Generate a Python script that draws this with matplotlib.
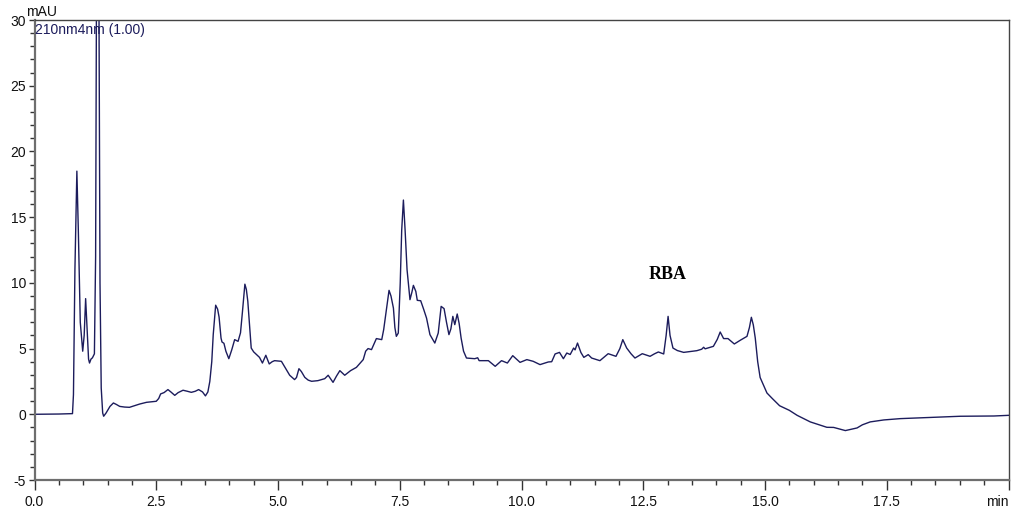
import matplotlib
matplotlib.use("Agg")
import matplotlib.pyplot as plt
from matplotlib.ticker import MultipleLocator, FixedLocator

# Retention time (min) and absorbance (mAU)
time_min = [
    0.00, 0.50, 0.78, 0.80, 0.83, 0.87, 0.90, 0.94, 0.99, 1.02, 1.05, 1.08, 1.11, 1.13, 1.16, 1.19,
    1.23, 1.255, 1.275, 1.30, 1.32, 1.345, 1.37, 1.40, 1.42, 1.47, 1.55, 1.62, 1.68, 1.75, 1.85, 1.95,
    2.05, 2.16, 2.30, 2.50, 2.55, 2.59, 2.66, 2.74, 2.80, 2.88, 2.95, 3.05, 3.14, 3.22, 3.30, 3.37,
    3.45, 3.51, 3.56, 3.60, 3.64, 3.67, 3.72, 3.76, 3.79, 3.83, 3.85, 3.89, 3.93, 3.99, 4.05, 4.11,
    4.18, 4.23, 4.27, 4.32, 4.35, 4.38, 4.42, 4.45, 4.50, 4.56, 4.62, 4.68, 4.75, 4.82, 4.88, 4.93,
    5.07, 5.17, 5.24, 5.34, 5.38, 5.43, 5.48, 5.55, 5.62, 5.69, 5.82, 5.96, 6.03, 6.08, 6.13, 6.20,
    6.27, 6.37, 6.49, 6.61, 6.75, 6.80, 6.85, 6.92, 7.02, 7.13, 7.17, 7.22, 7.28, 7.32, 7.37, 7.40,
    7.43, 7.47, 7.51, 7.54, 7.575, 7.61, 7.65, 7.71, 7.75, 7.78, 7.83, 7.86, 7.93, 7.99, 8.05, 8.12,
    8.22, 8.29, 8.35, 8.41, 8.46, 8.51, 8.55, 8.59, 8.63, 8.68, 8.72, 8.76, 8.81, 8.87, 9.04, 9.10,
    9.13, 9.32, 9.46, 9.59, 9.71, 9.82, 9.97, 10.11, 10.24, 10.38, 10.55, 10.62, 10.69, 10.78, 10.86, 10.93,
    11.00, 11.07, 11.10, 11.15, 11.22, 11.28, 11.37, 11.44, 11.61, 11.78, 11.94, 12.02, 12.08, 12.16, 12.25, 12.33,
    12.48, 12.64, 12.73, 12.81, 12.92, 12.97, 13.01, 13.05, 13.11, 13.20, 13.33, 13.60, 13.70, 13.74, 13.77, 13.94,
    14.02, 14.08, 14.15, 14.24, 14.37, 14.50, 14.63, 14.68, 14.72, 14.76, 14.80, 14.85, 14.90, 15.04, 15.15, 15.30,
    15.50, 15.66, 15.93, 16.27, 16.41, 16.65, 16.89, 17.00, 17.16, 17.44, 17.78, 18.46, 19.01, 19.70, 20.00,
]
absorbance_mau = [
    0.00, 0.02, 0.05, 1.5, 11.0, 18.5, 14.0, 7.0, 4.8, 6.0, 8.8, 6.5, 4.2, 3.9, 4.2, 4.3,
    4.6, 12.0, 35.0, 45.0, 35.0, 10.0, 2.0, 0.1, -0.15, 0.1, 0.6, 0.86, 0.75, 0.6, 0.55, 0.53,
    0.65, 0.78, 0.91, 0.99, 1.2, 1.55, 1.65, 1.88, 1.7, 1.44, 1.65, 1.83, 1.75, 1.67, 1.75, 1.88,
    1.7, 1.4, 1.7, 2.5, 4.0, 6.06, 8.3, 8.0, 7.4, 5.8, 5.5, 5.4, 4.8, 4.23, 4.9, 5.68,
    5.55, 6.2, 7.8, 9.9, 9.5, 8.6, 6.5, 5.04, 4.75, 4.54, 4.33, 3.9, 4.49, 3.83, 4.0, 4.08,
    4.03, 3.4, 2.97, 2.64, 2.8, 3.47, 3.25, 2.81, 2.6, 2.51, 2.56, 2.71, 2.97, 2.7, 2.43, 2.9,
    3.32, 2.97, 3.32, 3.57, 4.16, 4.8, 5.0, 4.92, 5.76, 5.68, 6.44, 7.8, 9.43, 9.0, 8.08, 6.6,
    5.93, 6.18, 10.0, 14.0, 16.3, 14.0, 11.0, 8.72, 9.3, 9.81, 9.35, 8.67, 8.64, 8.0, 7.32, 6.06,
    5.42, 6.18, 8.21, 8.04, 7.0, 6.06, 6.5, 7.45, 6.82, 7.63, 6.9, 5.8, 4.8, 4.28, 4.23, 4.3,
    4.08, 4.08, 3.65, 4.08, 3.9, 4.46, 3.95, 4.16, 4.03, 3.78, 3.98, 4.0, 4.59, 4.71, 4.23, 4.66,
    4.55, 5.04, 4.9, 5.42, 4.7, 4.33, 4.54, 4.28, 4.08, 4.61, 4.41, 5.0, 5.68, 5.04, 4.6, 4.28,
    4.61, 4.41, 4.6, 4.74, 4.59, 6.0, 7.45, 6.0, 5.04, 4.85, 4.71, 4.84, 4.95, 5.1, 4.98, 5.17,
    5.7, 6.26, 5.76, 5.76, 5.35, 5.65, 5.93, 6.6, 7.38, 6.8, 5.8, 4.0, 2.8, 1.62, 1.2, 0.65,
    0.3, -0.08, -0.58, -0.99, -1.0, -1.24, -1.04, -0.8, -0.58, -0.43, -0.33, -0.23, -0.15, -0.13, -0.08,
]

x_major = [0.0, 2.5, 5.0, 7.5, 10.0, 12.5, 15.0, 17.5, 20.0]
x_labels = ["0.0", "2.5", "5.0", "7.5", "10.0", "12.5", "15.0", "17.5", "min"]
y_major = [-5, 0, 5, 10, 15, 20, 25, 30]
y_labels = ["-5", "0", "5", "10", "15", "20", "25", "30"]

channel_label = "210nm4nm (1.00)"
peak_label = "RBA"
peak_label_pos = (13.0, 10.6)

plt.rcParams["font.family"] = ["Liberation Sans", "DejaVu Sans"]

W, H = 1018, 518
fig = plt.figure(figsize=(W / 100, H / 100), dpi=100)
ax = fig.add_axes([34.5 / W, 1 - 480 / H, (1008.5 - 34.5) / W, (480 - 20) / H])

line_color = "#1c1c5c"
ax.plot(time_min, absorbance_mau, color=line_color, lw=1.0)

ax.set_xlim(0, 20)
ax.set_ylim(-5, 30)

ax.xaxis.set_major_locator(FixedLocator(x_major))
xt = ax.set_xticklabels(x_labels)
xt[-1].set_horizontalalignment("right")
ax.xaxis.set_minor_locator(MultipleLocator(0.5))
ax.yaxis.set_major_locator(FixedLocator(y_major))
ax.set_yticklabels(y_labels)
ax.yaxis.set_minor_locator(MultipleLocator(1))

tick_col = "#333333"
ax.tick_params(axis="x", which="major", direction="out", length=7, width=1.0, color=tick_col,
               labelsize=10, pad=4, labelcolor="#111111")
ax.tick_params(axis="x", which="minor", direction="out", length=3.5, width=1.0, color=tick_col)
ax.tick_params(axis="y", which="major", direction="out", length=4.5, width=1.0, color=tick_col,
               labelsize=10, pad=1.5, labelcolor="#111111")
ax.tick_params(axis="y", which="minor", direction="out", length=3.5, width=1.0, color=tick_col)

for side in ["left", "bottom"]:
    ax.spines[side].set_color("#6e6e6e")
    ax.spines[side].set_linewidth(1.6)
for side in ["top", "right"]:
    ax.spines[side].set_color("#444444")
    ax.spines[side].set_linewidth(1.0)

ax.text(0.02, 29.75, channel_label, color=line_color, fontsize=10, ha="left", va="top")
fig.text(26 / W, 1 - 19 / H, "mAU", fontsize=10, ha="left", va="bottom", color="#111111")

ax.text(peak_label_pos[0], peak_label_pos[1], peak_label, fontsize=13, fontweight="bold",
        family=["Liberation Serif", "DejaVu Serif"], ha="center", va="center", color="black")

fig.savefig("out.png", dpi=100)
